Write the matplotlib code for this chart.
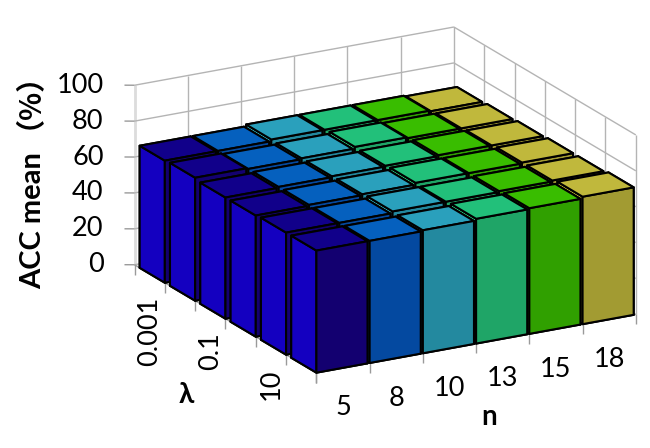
import matplotlib
matplotlib.use('Agg')
import matplotlib.pyplot as plt
from mpl_toolkits.mplot3d import proj3d

plt.rcParams['font.family'] = ['Lato', 'Noto Sans CJK SC', 'DejaVu Sans']

# Data
n_labels = ['5', '8', '10', '13', '15', '18']
lam_labels = ['0.001', '', '0.1', '', '10', '']
z_ticks = [0, 20, 40, 60, 80, 100]

acc_l0 = [68.0, 68.0, 69.0, 69.0, 69.0, 68.5]
acc_l1 = [68.5, 68.0, 68.5, 69.5, 69.0, 69.0]
acc_l2 = [67.5, 68.0, 68.5, 69.0, 69.5, 69.5]
acc_l3 = [67.5, 68.0, 68.5, 69.5, 69.5, 70.0]
acc_l4 = [68.0, 68.0, 69.0, 69.0, 69.5, 70.0]
acc_l5 = [68.0, 68.0, 68.5, 69.5, 70.0, 71.0]
acc = [acc_l0, acc_l1, acc_l2, acc_l3, acc_l4, acc_l5]

# colours per n column: top, front, left
top_cols = ['#11008a', '#0560be', '#2aa0bc', '#22c07a', '#39bd00', '#c0b83c']
front_cols = ['#130070', '#0449a0', '#23899f', '#1fa567', '#30a000', '#a29b32']
left_cols = ['#1400c0', '#0a78e0', '#38e0f0', '#30ffa0', '#50f000', '#f0e040']

bar_dx = 0.96
bar_dy = 0.83
grid_col = '#b4b4b4'
tick_col = '#9a9a9a'

# big square axes so nothing gets clipped at its edge
side = 900
fig = plt.figure(figsize=(6.5, 4.48), dpi=100)
ax = fig.add_axes([-77 / 650, -214 / 448, side / 650, side / 448], projection='3d', proj_type='ortho')
ax.view_init(elev=19.2, azim=-119)
ax.set_box_aspect((365, 375, 190), zoom=1.207 * 448 / side)
ax.set_xlim(0, 6)
ax.set_ylim(0, 6)
ax.set_zlim(0, 100)
ax.set_axis_off()
ax.computed_zorder = False
ax.patch.set_alpha(0)


def line3(xs, ys, zs, col=grid_col, lw=1.0, z=1):
    ax.plot(xs, ys, zs, color=col, lw=lw, zorder=z, solid_capstyle='butt')


# back walls
for k in range(1, 7):
    line3([k, k], [6, 6], [0, 100])
    line3([6, 6], [k - 1, k - 1], [0, 100])
line3([0, 0], [6, 6], [0, 100], col='#dcdcdc', lw=2)
for v in z_ticks:
    line3([0, 6], [6, 6], [v, v])
    line3([6, 6], [0, 6], [v, v])

# axes lines and ticks
line3([0, 6], [0, 0], [0, 0], col=tick_col)
line3([0, 0], [0, 6], [0, 0], col=tick_col)
for k in range(7):
    line3([k, k], [0, 0], [0, -5.5], col=tick_col)
    line3([0, 0], [k, k], [0, -5.5], col=tick_col)
for v in z_ticks:
    line3([0, -0.143], [6, 6.08], [v, v], col=tick_col)

# bars, painted from the far corner to the near one
order = 10
for ix in range(5, -1, -1):
    for iy in range(5, -1, -1):
        h = acc[5 - iy][ix]
        # faces: bottom, top, -y (front), +y, -x (left), +x
        cols = [front_cols[ix], top_cols[ix], front_cols[ix], front_cols[ix], left_cols[ix], front_cols[ix]]
        bar = ax.bar3d(ix, iy, 0, bar_dx, bar_dy, h, color=cols, shade=False, edgecolor='black', linewidth=1.5)
        bar.set_zorder(order)
        order += 1


# text placed from projected positions
def label(x, y, z, s, off, **kw):
    px, py, _ = proj3d.proj_transform(x, y, z, ax.get_proj())
    ax.annotate(s, xy=(px, py), xycoords='data', xytext=off, textcoords='offset pixels',
                annotation_clip=False, color='black', zorder=200, **kw)


tick_size = 19.5
for i, s in enumerate(n_labels):
    label(i + 0.5, 0, 0, s, (0, -40), ha='center', va='center', fontsize=tick_size)
for i, s in enumerate(lam_labels):
    if s:
        label(0, 5 - i, 0, s, (-15, -14), ha='center', va='top', rotation=90, fontsize=tick_size)
for v in z_ticks:
    label(0, 6, v, str(v), (-31, 0), ha='right', va='center', fontsize=tick_size)

fig.text(489 / 650, 1 - 417 / 448, 'n', ha='center', va='center', fontsize=20, fontweight='bold')
fig.text(186 / 650, 1 - 395 / 448, 'λ', ha='center', va='center', fontsize=20, fontweight='bold')
fig.text(33 / 650, 1 - 221 / 448, 'ACC mean', ha='center', va='center', rotation=90,
         fontsize=21, fontweight='bold')
# CJK brackets carry blank space, so the anchor is nudged to put the ink on the label line
fig.text(14 / 650, 1 - 86 / 448, '（%）', ha='center', va='center', rotation=90,
         fontsize=21, fontweight='bold', family='Noto Sans CJK SC')

fig.savefig('out.png', dpi=100)
